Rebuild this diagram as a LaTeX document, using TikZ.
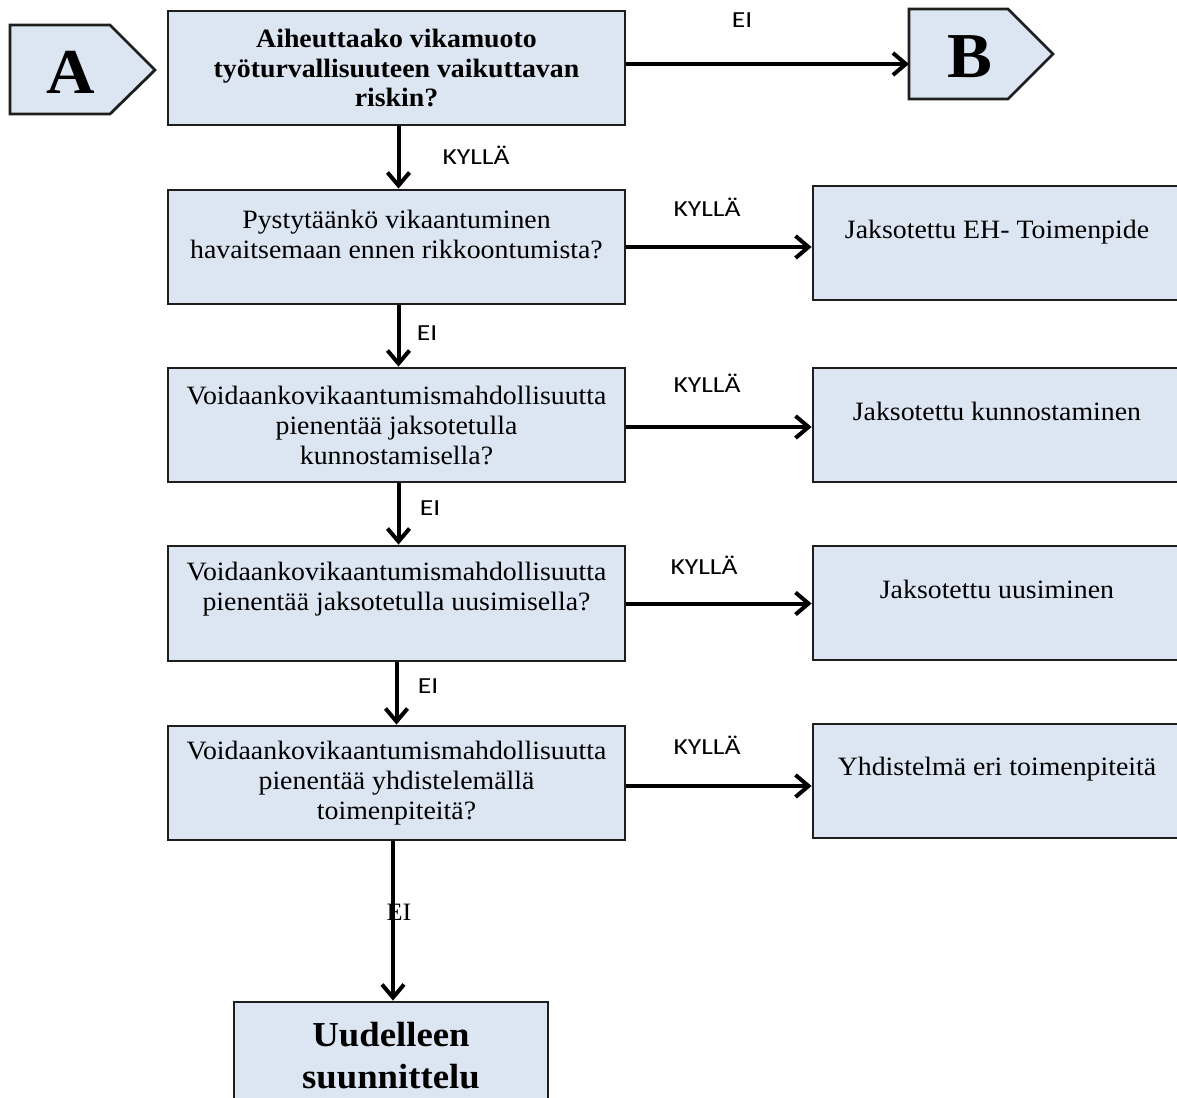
\documentclass[tikz,border=0pt]{standalone}
\usepackage{fontspec}
\setmainfont{Liberation Serif}[FakeStretch=1.05]
\newfontfamily\lblfont{Carlito}[FakeStretch=1.2]
\usetikzlibrary{arrows.meta}
\definecolor{boxfill}{HTML}{DCE6F2}
\definecolor{edge}{HTML}{1E1E1E}

\begin{document}
\begin{tikzpicture}[x=1pt,y=-1pt,
  box/.style={draw=edge, line width=2.8pt, fill=boxfill, rectangle, inner sep=0pt},
  qtext/.style={align=center, inner sep=0pt, font=\fontsize{26.5}{30}\selectfont},
  btext/.style={align=center, inner sep=0pt, font=\fontsize{26.5}{29.5}\selectfont\bfseries},
  bigtext/.style={align=center, inner sep=0pt, font=\fontsize{35}{42}\selectfont\bfseries},
  letter/.style={inner sep=0pt, font=\fontsize{64}{64}\selectfont\bfseries},
  lbl/.style={inner sep=0pt, font=\lblfont\fontsize{23}{23}\selectfont},
  arr/.style={line width=4pt, draw=black, -{Straight Barb[length=13pt,width=22pt]}}]
\useasboundingbox (0,0) rectangle (1177,1097);

% connector shapes A and B
\draw[box] (10,25) -- (110,25) -- (155,70) -- (110,114) -- (10,114) -- cycle;
\node[letter] (A) at (71,72) {A};
\draw[box] (909,9) -- (1008,9) -- (1053,54) -- (1008,99) -- (909,99) -- cycle;
\node[letter] (B) at (970,57) {B};
\coordinate (Bw) at (909,64);

% question boxes
\node[box, minimum width=457pt, minimum height=114pt] (q1) at (396.5,68) {};
\node[btext] (t1) at (396.5,68) {Aiheuttaako vikamuoto\\työturvallisuuteen vaikuttavan\\riskin?};

\node[box, minimum width=457pt, minimum height=114pt] (q2) at (396.5,247) {};
\node[qtext] (t2) at (396.5,234) {Pystytäänkö vikaantuminen\\havaitsemaan ennen rikkoontumista?};

\node[box, minimum width=457pt, minimum height=114pt] (q3) at (396.5,425) {};
\node[qtext] (t3) at (396.5,425) {Voidaankovikaantumismahdollisuutta\\pienentää jaksotetulla\\kunnostamisella?};

\node[box, minimum width=457pt, minimum height=115pt] (q4) at (396.5,603.5) {};
\node[qtext] (t4) at (396.5,589.5) {Voidaankovikaantumismahdollisuutta\\pienentää jaksotetulla uusimisella?};

\node[box, minimum width=457pt, minimum height=114pt] (q5) at (396.5,783) {};
\node[qtext] (t5) at (396.5,783) {Voidaankovikaantumismahdollisuutta\\pienentää yhdistelemällä\\toimenpiteitä?};

% final box
\node[box, minimum width=314pt, minimum height=112pt] (re) at (391,1058) {};
\node[bigtext] (tre) at (391,1056) {Uudelleen\\suunnittelu};

% action boxes
\node[box, minimum width=368pt, minimum height=114pt] (r1) at (997,243) {};
\node[qtext] (s1) at (997,232) {Jaksotettu EH- Toimenpide};
\node[box, minimum width=368pt, minimum height=114pt] (r2) at (997,425) {};
\node[qtext] (s2) at (997,411) {Jaksotettu kunnostaminen};
\node[box, minimum width=368pt, minimum height=114pt] (r3) at (997,603) {};
\node[qtext] (s3) at (997,589) {Jaksotettu uusiminen};
\node[box, minimum width=368pt, minimum height=114pt] (r4) at (997,781) {};
\node[qtext] (s4) at (997,769) {Yhdistelmä eri toimenpiteitä};

% connectors
\draw[arr] (q1.east |- Bw) -- (Bw);
\draw[arr] ([xshift=2pt]q1.south) -- ([xshift=2pt]q2.north);
\draw[arr] ([xshift=2pt]q2.south) -- ([xshift=2pt]q3.north);
\draw[arr] ([xshift=2pt]q3.south) -- ([xshift=2pt]q4.north);
\draw[arr] (q4.south) -- (q5.north);
\draw[arr] ([xshift=2pt]re.north |- q5.south) -- ([xshift=2pt]re.north);
\draw[arr] (q2.east) -- (q2.east -| r1.west);
\draw[arr] ([yshift=-2pt]q3.east) -- ([yshift=-2pt]q3.east -| r2.west);
\draw[arr] (q4.east) -- (q4.east -| r3.west);
\draw[arr] ([yshift=-3pt]q5.east) -- ([yshift=-3pt]q5.east -| r4.west);

% branch labels
\node[lbl] (l0) at (742,20) {EI};
\node[lbl] (l1) at (476,155) {KYLLÄ};
\node[lbl] (l2) at (427,333) {EI};
\node[lbl] (l3) at (430,508) {EI};
\node[lbl] (l4) at (428,686) {EI};
\node[inner sep=0pt, font=\fontsize{25}{25}\selectfont] (l5) at (399,912) {EI};
\node[lbl] (k1) at (707,207) {KYLLÄ};
\node[lbl] (k2) at (707,383) {KYLLÄ};
\node[lbl] (k3) at (704,565) {KYLLÄ};
\node[lbl] (k4) at (707,745) {KYLLÄ};
\end{tikzpicture}
\end{document}
